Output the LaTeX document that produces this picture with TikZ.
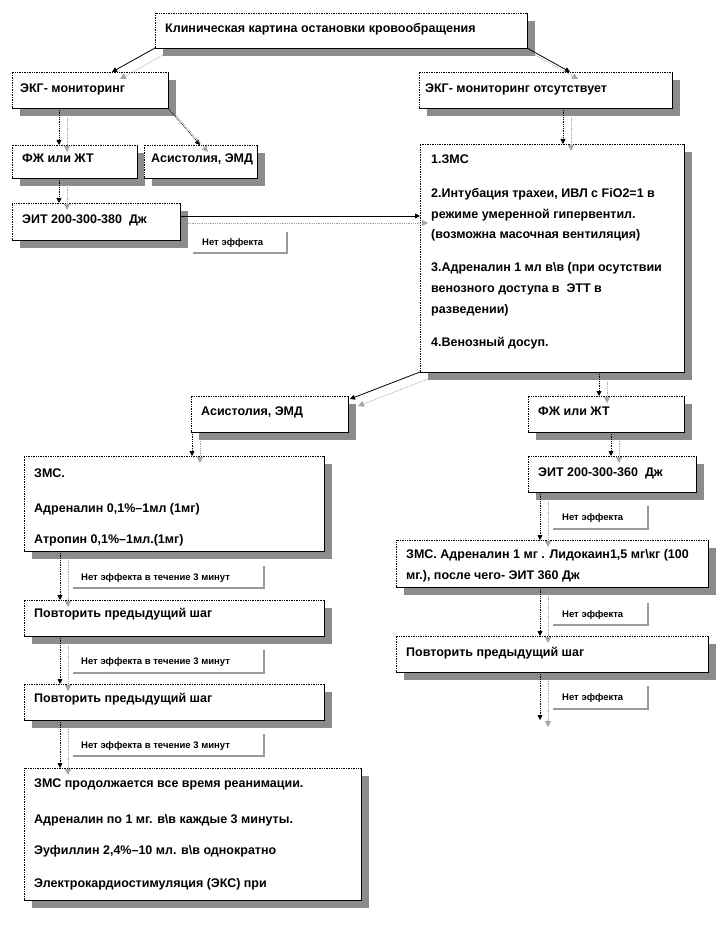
\documentclass[tikz,border=0pt]{standalone}
\usepackage{fontspec}
\setmainfont{Liberation Sans}
\usetikzlibrary{shadows,arrows.meta}
\tikzset{
  boxn/.style={fill=white, inner sep=0pt, outer sep=0pt, anchor=north west,
    drop shadow={shadow xshift=8pt, shadow yshift=-8pt, fill=black!45, opacity=1}},
  lbln/.style={fill=white, inner sep=0pt, outer sep=0pt, anchor=north west},
  txt/.style={inner sep=0pt, anchor=base west, font=\fontsize{12.5}{14}\selectfont\bfseries},
  ltxt/.style={inner sep=0pt, anchor=base west, font=\fontsize{9.5}{11}\selectfont\bfseries},
  blk/.style={black, line width=0.8pt, -{Triangle[length=5pt,width=5pt]}},
  blkd/.style={blk, densely dotted},
  gry/.style={black!35, line width=0.8pt, densely dotted, -{Triangle[length=6pt,width=6pt]},
    transform canvas={xshift=8pt,yshift=-7pt}},
}
\newcommand\boxedges[1]{%
  \draw[line width=0.7pt] (#1.south west) -- (#1.south east) -- (#1.north east);
  \draw[line width=0.7pt, densely dotted] (#1.south west) -- (#1.north west) -- (#1.north east);}
\newcommand\mkbox[5]{%
  \node[boxn, minimum width=#4pt, minimum height=#5pt] (#1) at (#2,#3) {};
  \boxedges{#1}}
\newcommand\mklbl[5]{%
  \node[lbln, minimum width=#4pt, minimum height=#5pt] (#1) at (#2,#3) {};
  \draw[black!40, line width=1.2pt] (#1.north east) -- (#1.south east) -- (#1.south west);}
\begin{document}
\begin{tikzpicture}[x=1pt,y=-1pt]
\useasboundingbox (0,0) rectangle (718,936);
\fill[white] (0,0) rectangle (718,936);

% boxes
\mkbox{top}{155}{13}{372}{35}
\mkbox{ekg}{12}{72}{156}{36}
\mkbox{ekgno}{419}{72}{253}{36}
\mkbox{fzha}{12}{145}{125}{33}
\mkbox{asysa}{144}{145}{113}{33}
\mkbox{eita}{12}{203}{168}{37}
\mkbox{big}{420}{144}{264}{228}
\mkbox{asysb}{191}{396}{157}{36}
\mkbox{fzhb}{528}{396}{156}{36}
\mkbox{zms}{24}{456}{300}{95}
\mkbox{eitb}{528}{456}{168}{36}
\mkbox{zmsadr}{396}{540}{312}{47}
\mkbox{repa}{24}{600}{300}{36}
\mkbox{repb}{24}{684}{300}{36}
\mkbox{repc}{396}{636}{312}{36}
\mkbox{fin}{24}{768}{337}{132}

% labels "no effect"
\mklbl{nea}{193}{232}{94}{21}
\mklbl{neb}{73}{566}{191}{22}
\mklbl{nec}{73}{650}{191}{23}
\mklbl{ned}{73}{734}{191}{22}
\mklbl{nee}{553}{506}{95}{23}
\mklbl{nef}{553}{603}{95}{22}
\mklbl{neg}{553}{686}{95}{23}

% texts
\node[txt] (t1) at (165,33) {Клиническая картина остановки кровообращения};
\node[txt] (t2) at (20,93) {ЭКГ- мониторинг};
\node[txt] (t3) at (425,93) {ЭКГ- мониторинг отсутствует};
\node[txt] (t4) at (22,163) {ФЖ или ЖТ};
\node[txt] (t5) at (151,163) {Асистолия, ЭМД};
\node[txt] (t6) at (22,223) {ЭИТ 200-300-380\ \ Дж};
\node[ltxt] (t7) at (202,245) {Нет эффекта};
\node[txt] (b1) at (431,164) {1.ЗМС};
\node[txt] (b2) at (431,197) {2.Интубация трахеи, ИВЛ с FiO2=1 в};
\node[txt] (b3) at (431,218) {режиме умеренной гипервентил.};
\node[txt] (b4) at (431,238) {(возможна масочная вентиляция)};
\node[txt] (b5) at (431,271) {3.Адреналин 1 мл в\textbackslash в (при осутствии};
\node[txt] (b6) at (431,292) {венозного доступа в\ \ ЭТТ в};
\node[txt] (b7) at (431,313) {разведении)};
\node[txt] (b8) at (431,346) {4.Венозный досуп.};
\node[txt] (t8) at (201,415) {Асистолия, ЭМД};
\node[txt] (t9) at (538,415) {ФЖ или ЖТ};
\node[txt] (z1) at (34,477) {ЗМС.};
\node[txt] (z2) at (34,512) {Адреналин 0,1\%–1мл (1мг)};
\node[txt] (z3) at (34,543) {Атропин 0,1\%–1мл.(1мг)};
\node[txt] (t10) at (538,476) {ЭИТ 200-300-360\ \ Дж};
\node[ltxt] (t11) at (562,520) {Нет эффекта};
\node[txt] (a1) at (406,558) {ЗМС. Адреналин 1 мг . Лидокаин1,5 мг\textbackslash кг (100};
\node[txt] (a2) at (406,579) {мг.), после чего- ЭИТ 360 Дж};
\node[ltxt] (t12) at (562,617) {Нет эффекта};
\node[txt] (t13) at (406,656) {Повторить предыдущий шаг};
\node[ltxt] (t14) at (562,700) {Нет эффекта};
\node[ltxt] (t15) at (81,580) {Нет эффекта в течение 3 минут};
\node[txt] (t16) at (34,617) {Повторить предыдущий шаг};
\node[ltxt] (t17) at (81,664) {Нет эффекта в течение 3 минут};
\node[txt] (t18) at (34,702) {Повторить предыдущий шаг};
\node[ltxt] (t19) at (81,748) {Нет эффекта в течение 3 минут};
\node[txt] (f1) at (34,787) {ЗМС продолжается все время реанимации.};
\node[txt] (f2) at (34,823) {Адреналин по 1 мг. в\textbackslash в каждые 3 минуты.};
\node[txt] (f3) at (34,854) {Эуфиллин 2,4\%–10 мл. в\textbackslash в однократно};
\node[txt] (f4) at (34,887) {Электрокардиостимуляция (ЭКС) при};

% columns
\coordinate (cA) at (59,0);
\coordinate (cB) at (60,0);
\coordinate (cC) at (192,0);
\coordinate (cD) at (563,0);
\coordinate (cE) at (599,0);
\coordinate (cF) at (611,0);
\coordinate (cG) at (540,0);
\coordinate (e1) at ([yshift=-13pt]eita.north east);
\coordinate (endr) at (540,720);

% connectors (black)
\draw[blk] (top.south west) -- ([xshift=100pt]ekg.north west);
\draw[blk] (top.south east) -- ([xshift=151pt]ekgno.north west);
\draw[blkd] (cA |- ekg.south) -- (cA |- fzha.north);
\draw[blkd] (ekg.south east) -- ([xshift=56pt]asysa.north west);
\draw[blkd] (cA |- fzha.south) -- (cA |- eita.north);
\draw[blk] (e1) -- (e1 -| big.west);
\draw[blkd] (cD |- ekgno.south) -- (cD |- big.north);
\draw[blk] (big.south west) -- ([shift={(2pt,-3pt)}]asysb.north east);
\draw[blkd] (cE |- big.south) -- (cE |- fzhb.north);
\draw[blkd] (cC |- asysb.south) -- (cC |- zms.north);
\draw[blkd] (cF |- fzhb.south) -- (cF |- eitb.north);
\draw[blkd] (cB |- zms.south) -- (cB |- repa.north);
\draw[blkd] (cB |- repa.south) -- (cB |- repb.north);
\draw[blkd] (cB |- repb.south) -- (cB |- fin.north);
\draw[blkd] (cG |- eitb.south) -- (cG |- zmsadr.north);
\draw[blkd] (cG |- zmsadr.south) -- (cG |- repc.north);
\draw[blkd] (cG |- repc.south) -- (endr);

% connector shadows (grey)
\draw[gry] (top.south west) -- ([xshift=100pt]ekg.north west);
\draw[gry] (top.south east) -- ([xshift=151pt]ekgno.north west);
\draw[gry] (cA |- ekg.south) -- (cA |- fzha.north);
\draw[gry] (ekg.south east) -- ([xshift=56pt]asysa.north west);
\draw[gry] (cA |- fzha.south) -- (cA |- eita.north);
\draw[gry] (e1) -- (e1 -| big.west);
\draw[gry] (cD |- ekgno.south) -- (cD |- big.north);
\draw[gry] (big.south west) -- ([shift={(2pt,-3pt)}]asysb.north east);
\draw[gry] (cE |- big.south) -- (cE |- fzhb.north);
\draw[gry] (cC |- asysb.south) -- (cC |- zms.north);
\draw[gry] (cF |- fzhb.south) -- (cF |- eitb.north);
\draw[gry] (cB |- zms.south) -- (cB |- repa.north);
\draw[gry] (cB |- repa.south) -- (cB |- repb.north);
\draw[gry] (cB |- repb.south) -- (cB |- fin.north);
\draw[gry] (cG |- eitb.south) -- (cG |- zmsadr.north);
\draw[gry] (cG |- zmsadr.south) -- (cG |- repc.north);
\draw[gry] (cG |- repc.south) -- (endr);
\end{tikzpicture}
\end{document}
